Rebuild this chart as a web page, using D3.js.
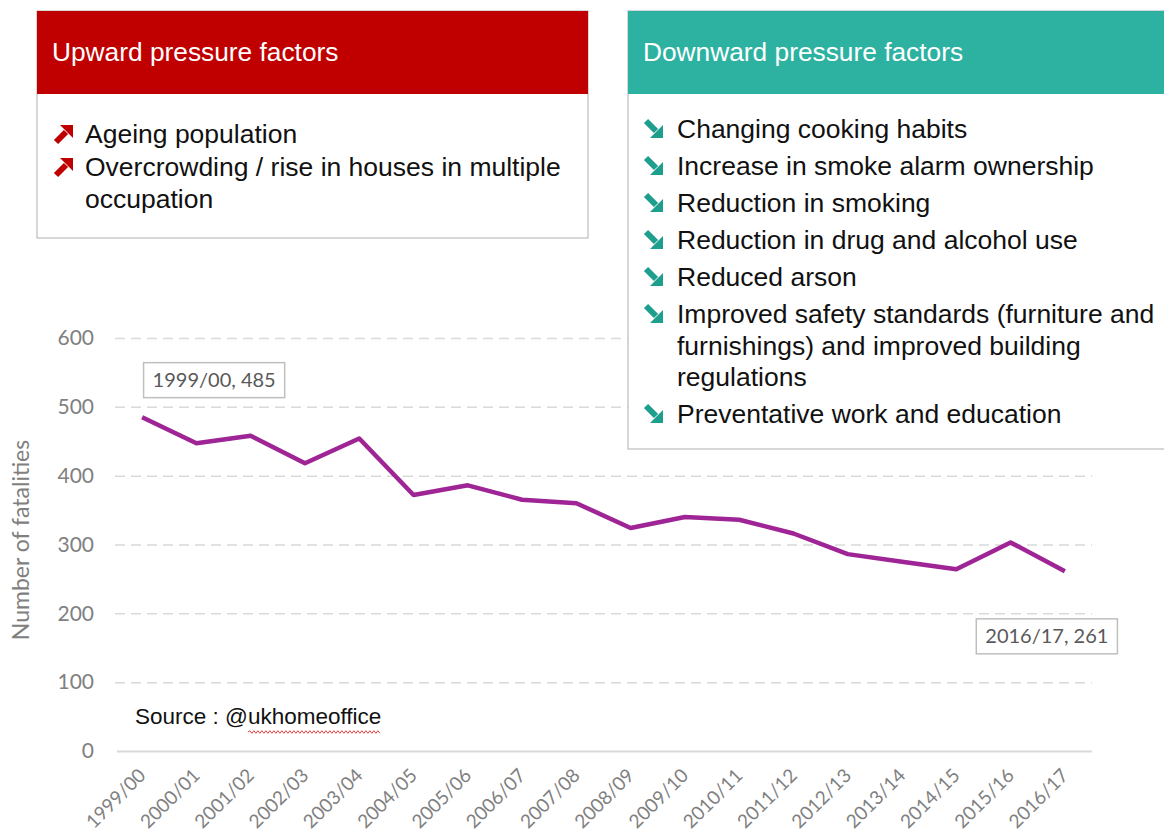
<!DOCTYPE html>
<html>
<head>
<meta charset="utf-8">
<script src="https://cdn.jsdelivr.net/npm/d3@7"></script>
<style>
  body { margin: 0; background: #fff; }
  svg { display: block; }
</style>
</head>
<body>
<svg id="chart" width="1164" height="833"></svg>
<script>
// Fire fatalities per financial year
const years = ["1999/00","2000/01","2001/02","2002/03","2003/04","2004/05","2005/06","2006/07","2007/08",
               "2008/09","2009/10","2010/11","2011/12","2012/13","2013/14","2014/15","2015/16","2016/17"];
const fatalities = [485, 447, 458, 418, 454, 372, 386, 365, 360, 324, 340, 336, 316, 286, 275, 264, 303, 261];
const yTicks = [0, 100, 200, 300, 400, 500, 600];
const yTitle = "Number of fatalities";

// Factor panels
const upwardTitle = "Upward pressure factors";
const upwardFactors = [
  ["Ageing population"],
  ["Overcrowding / rise in houses in multiple", "occupation"]
];
const downwardTitle = "Downward pressure factors";
const downwardFactors = [
  ["Changing cooking habits"],
  ["Increase in smoke alarm ownership"],
  ["Reduction in smoking"],
  ["Reduction in drug and alcohol use"],
  ["Reduced arson"],
  ["Improved safety standards (furniture and", "furnishings) and improved building", "regulations"],
  ["Preventative work and education"]
];
const sourcePrefix = "Source : @";
const sourceHandle = "ukhomeoffice";

const svg = d3.select("#chart");
const chartFont = "Lato, 'Open Sans', sans-serif";
const boxFont = "'Liberation Sans', Arial, sans-serif";

// ---- Chart ----
const x = d3.scaleBand().domain(years).range([115, 1092]);
const y = d3.scaleLinear().domain([0, 600]).range([751, 338]);
const cx = d => x(d) + x.bandwidth() / 2;

// Gridlines + y labels
const yAxis = svg.append("g")
  .attr("transform", "translate(115,0)")
  .call(d3.axisLeft(y).tickValues(yTicks).tickSize(-977).tickPadding(21).tickFormat(d3.format("d")));
yAxis.select(".domain").remove();
yAxis.selectAll(".tick line")
  .attr("stroke", "#d9d9d9")
  .attr("stroke-width", 1.5)
  .attr("stroke-dasharray", d => d === 0 ? null : "10,6")
  .attr("x1", d => d === 0 ? 2 : 0);
yAxis.selectAll(".tick line").filter(d => d === 0).attr("stroke-width", 2);
yAxis.selectAll(".tick text")
  .attr("fill", "#808080")
  .style("font-family", chartFont)
  .style("font-size", "21px");

// Y-axis title
svg.append("text")
  .attr("transform", "translate(29,540) rotate(-90)")
  .attr("text-anchor", "middle")
  .attr("fill", "#808080")
  .style("font-family", chartFont)
  .style("font-size", "23px")
  .text(yTitle);

// X labels
const xAxis = svg.append("g")
  .attr("transform", "translate(0,751)")
  .call(d3.axisBottom(x).tickSize(0));
xAxis.select(".domain").remove();
xAxis.selectAll(".tick text")
  .attr("y", 0).attr("dy", "0.35em")
  .attr("transform", "translate(0,21) rotate(-45)")
  .attr("text-anchor", "end")
  .attr("fill", "#808080")
  .style("font-family", chartFont)
  .style("font-size", "19px");

// Series line
const series = years.map((yr, i) => ({ year: yr, value: fatalities[i] }));
svg.append("path")
  .datum(series)
  .attr("fill", "none")
  .attr("stroke", "#9F2496")
  .attr("stroke-width", 4.5)
  .attr("stroke-linejoin", "round")
  .attr("stroke-linecap", "butt")
  .attr("d", d3.line().x(d => cx(d.year)).y(d => y(d.value)));

// Data labels for first and last points
function dataLabel(d, dx, dy) {
  const g = svg.append("g")
    .attr("transform", `translate(${cx(d.year) + dx},${y(d.value) + dy})`);
  const rect = g.append("rect");
  const t = g.append("text")
    .attr("text-anchor", "middle").attr("dy", "0.35em")
    .attr("fill", "#595959")
    .style("font-family", chartFont)
    .style("font-size", "20px")
    .text(`${d.year}, ${d.value}`);
  const bb = t.node().getBBox();
  const padX = 9, h = 35;
  rect.attr("x", bb.x - padX).attr("y", -h / 2)
    .attr("width", bb.width + 2 * padX).attr("height", h)
    .attr("fill", "#fff").attr("stroke", "#bfbfbf").attr("stroke-width", 1.5);
}
dataLabel(series[0], 72, -37);
dataLabel(series[series.length - 1], -18, 65);

// Source note with spell-check squiggle
const src = svg.append("text")
  .attr("x", 135).attr("y", 724)
  .attr("fill", "#111")
  .style("font-family", boxFont)
  .style("font-size", "22.5px");
src.append("tspan").text(sourcePrefix);
src.append("tspan").text(sourceHandle);
{
  const n = src.node();
  const x0 = 135 + n.getSubStringLength(0, sourcePrefix.length);
  const x1 = 135 + n.getComputedTextLength();
  const yy = 732;
  let p = `M${x0},${yy}`;
  let up = true;
  for (let xx = x0 + 2; xx <= x1; xx += 2) { p += `L${xx},${yy + (up ? -1.3 : 1.3)}`; up = !up; }
  svg.append("path").attr("d", p).attr("fill", "none").attr("stroke", "#e03030").attr("stroke-width", 0.9);
}

// ---- Factor panels ----
function arrowIcon(g, x0, yc, dir, color) {
  // Bold diagonal arrow: dir "up" points to the top-right, "down" to the bottom-right
  const s = 20;
  const ig = g.append("g").attr("transform", `translate(${x0},${yc - s / 2})`);
  if (dir === "up") {
    ig.append("line").attr("x1", 2).attr("y1", s - 2).attr("x2", s - 8).attr("y2", 8)
      .attr("stroke", color).attr("stroke-width", 6);
    ig.append("path").attr("d", `M${s * 0.3},1 L${s - 1},1 L${s - 1},${s * 0.7} Z`).attr("fill", color);
  } else {
    ig.append("line").attr("x1", 2).attr("y1", 2).attr("x2", s - 8).attr("y2", s - 8)
      .attr("stroke", color).attr("stroke-width", 6);
    ig.append("path").attr("d", `M${s - 1},${s * 0.3} L${s - 1},${s - 1} L${s * 0.3},${s - 1} Z`).attr("fill", color);
  }
}

function panel(opts) {
  const g = svg.append("g");
  g.append("rect")
    .attr("x", opts.x).attr("y", opts.y).attr("width", opts.w).attr("height", opts.h)
    .attr("fill", "#fff").attr("stroke", "#bdbdbd").attr("stroke-width", 1.2);
  g.append("rect")
    .attr("x", opts.x).attr("y", opts.y).attr("width", opts.w).attr("height", 83)
    .attr("fill", opts.color);
  g.append("text")
    .attr("x", opts.x + 15).attr("y", opts.y + 50)
    .attr("fill", "#fff")
    .style("font-family", boxFont).style("font-size", "26.3px")
    .text(opts.title);
  let base = opts.firstBaseline;
  opts.items.forEach(lines => {
    arrowIcon(g, opts.x + opts.iconDx, base - 9, opts.dir, opts.iconColor);
    lines.forEach(line => {
      g.append("text")
        .attr("x", opts.x + opts.textDx).attr("y", base)
        .attr("fill", "#111")
        .style("font-family", boxFont).style("font-size", "26.5px")
        .text(line);
      base += opts.lineStep;
    });
    base += opts.itemGap;
  });
}

panel({
  x: 37, y: 11, w: 551, h: 227, color: "#C00000", title: upwardTitle,
  items: upwardFactors, dir: "up", iconColor: "#C00000",
  iconDx: 17, textDx: 48, firstBaseline: 143, lineStep: 31.5, itemGap: 1.5
});
panel({
  x: 628, y: 11, w: 560, h: 438, color: "#2DB2A1", title: downwardTitle,
  items: downwardFactors, dir: "down", iconColor: "#1E9E8D",
  iconDx: 16, textDx: 49, firstBaseline: 138, lineStep: 31.5, itemGap: 5.5
});
</script>
</body>
</html>
